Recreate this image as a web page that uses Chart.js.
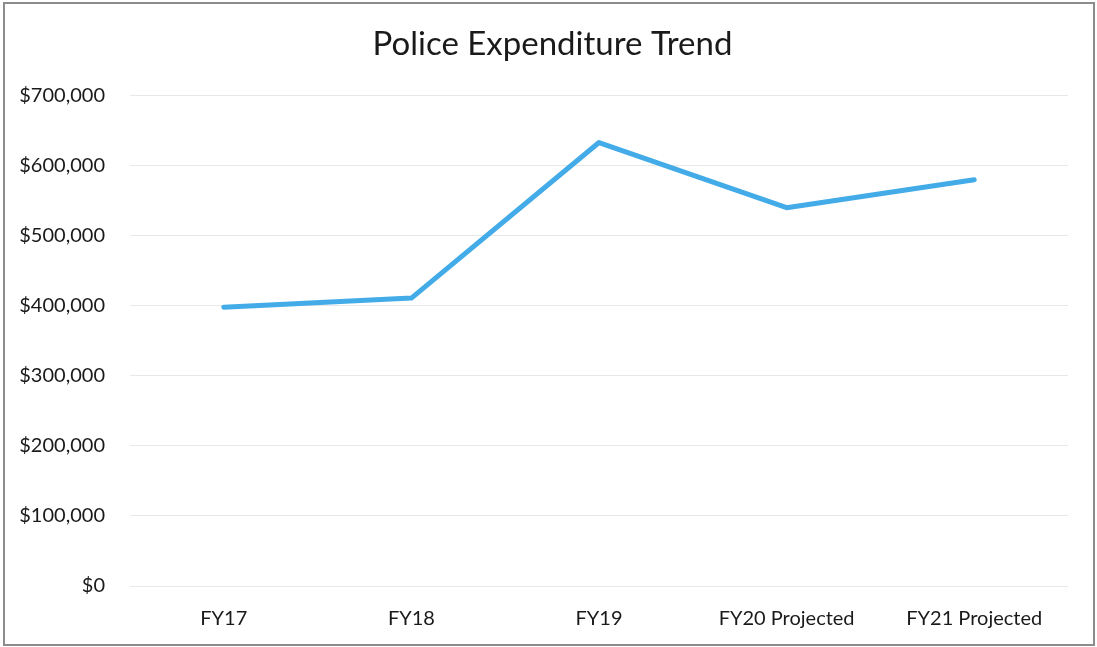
<!DOCTYPE html>
<html>
<head>
<meta charset="utf-8">
<script src="https://cdn.jsdelivr.net/npm/chart.js@4/dist/chart.umd.min.js"></script>
<style>
  html, body { margin: 0; padding: 0; background: #fff; }
  #wrap { position: relative; width: 1097px; height: 647px; }
  #frame { position: absolute; left: 3px; top: 2px; width: 1088px; height: 640px; border: 2px solid #8c8c8c; pointer-events: none; }
</style>
</head>
<body>
<div id="wrap">
  <canvas id="expChart" width="1097" height="647"></canvas>
  <div id="frame"></div>
</div>
<script>
const anos = ['FY17', 'FY18', 'FY19', 'FY20 Projected', 'FY21 Projected']
const gastos = [398000, 411000, 633000, 540000, 580000]
const yMax = 700000
const yStep = 100000

const fonte = 'Lato, "Open Sans", sans-serif'
const grafico = document.getElementById('expChart')

// empurra o titulo um pouco para a direita (centrado entre 37px e a borda direita)
const ajusteTitulo = {
    id: 'ajusteTitulo',
    afterLayout(chart) {
        if (chart.titleBlock) chart.titleBlock.left = 37
    }
}

new Chart(grafico, {
    type: 'line',
    data: {
        labels: anos,
        datasets: [{
            label: 'Police Expenditure',
            data: gastos,
            borderColor: '#42abe8',
            borderWidth: 5,
            borderCapStyle: 'round',
            borderJoinStyle: 'round',
            pointRadius: 0,
            tension: 0,
            fill: false
        }]
    },
    options: {
        responsive: false,
        animation: false,
        layout: { padding: { left: 10, right: 29, top: 10, bottom: 0 } },
        plugins: {
            legend: { display: false },
            tooltip: { enabled: false },
            title: {
                display: true,
                text: 'Police Expenditure Trend',
                color: '#1a1a1a',
                font: { family: fonte, size: 33, weight: 'normal' },
                padding: { top: 15, bottom: 31 }
            }
        },
        scales: {
            x: {
                offset: true,
                grid: { display: false, drawTicks: false },
                border: { display: false },
                ticks: {
                    color: '#1a1a1a',
                    padding: 21,
                    font: { family: fonte, size: 20 },
                    maxRotation: 0
                },
                afterFit: (s) => { s.height = 61 }
            },
            y: {
                min: 0,
                max: yMax,
                grid: { color: '#e8e8e8', lineWidth: 1, drawTicks: false },
                border: { display: false },
                ticks: {
                    stepSize: yStep,
                    color: '#1a1a1a',
                    padding: 25,
                    font: { family: fonte, size: 20 },
                    callback: (v) => '$' + v.toLocaleString('en-US')
                },
                afterFit: (s) => { s.width = 120 }
            }
        }
    },
    plugins: [ajusteTitulo]
})
</script>
</body>
</html>
